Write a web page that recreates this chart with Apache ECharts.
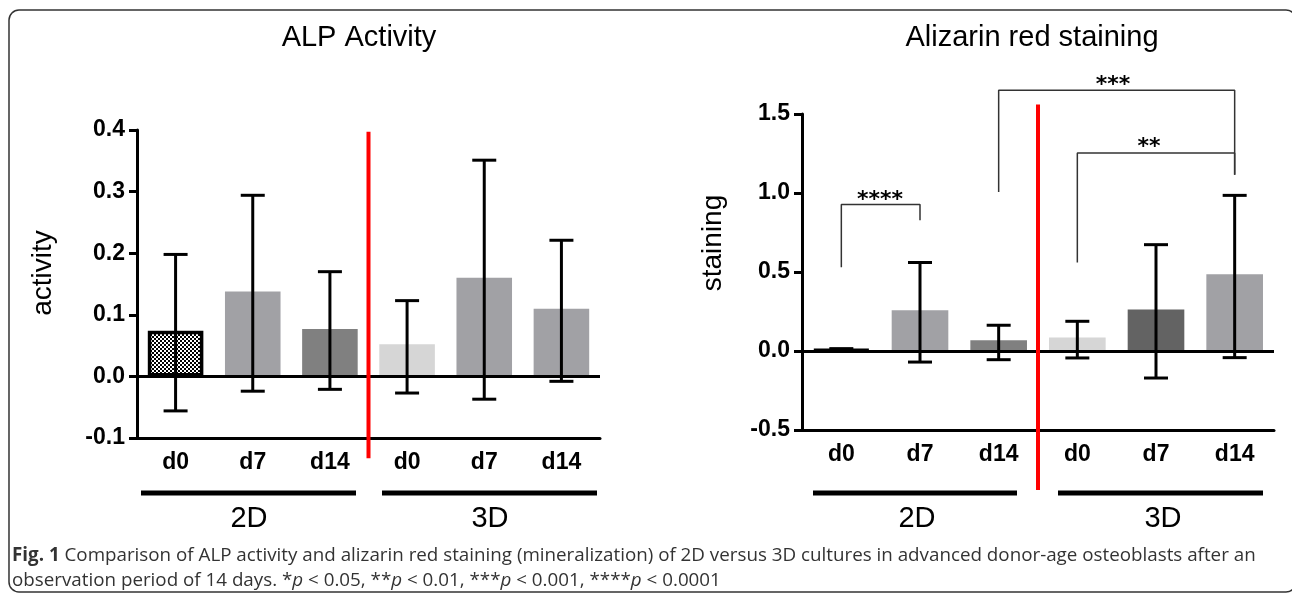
<!DOCTYPE html>
<html>
<head>
<meta charset="utf-8">
<script src="https://cdn.jsdelivr.net/npm/echarts@6/dist/echarts.min.js"></script>
<style>
html,body{margin:0;padding:0;background:#fff;}
#chart{width:1292px;height:597px;}
</style>
</head>
<body>
<div id="chart"></div>
<script>
// ---- data ----
const categories = ['d0', 'd7', 'd14', 'd0', 'd7', 'd14'];
const groupLabels = ['2D', '3D'];

const alpMean    = [0.074, 0.138, 0.077, 0.052, 0.160, 0.110];
const alpErrHigh = [0.198, 0.294, 0.170, 0.123, 0.351, 0.221];
const alpErrLow  = [-0.056, -0.024, -0.021, -0.027, -0.037, -0.008];

const stainMean    = [0.010, 0.258, 0.068, 0.085, 0.262, 0.485];
const stainErrHigh = [0.015, 0.560, 0.163, 0.188, 0.673, 0.985];
const stainErrLow  = [0.005, -0.070, -0.055, -0.044, -0.171, -0.042];

const alpTicks = [-0.1, 0.0, 0.1, 0.2, 0.3, 0.4];
const stainTicks = [-0.5, 0.0, 0.5, 1.0, 1.5];

// significance brackets: [category index, value] corner points
const bracket4 = [[0, 0.53], [0, 0.927], [1, 0.927], [1, 0.827]];
const bracket3 = [[2, 1.006], [2, 1.65], [5, 1.65], [5, 1.116]];
const bracket2 = [[3, 0.56], [3, 1.253], [5, 1.253], [5, 1.116]];

// ---- styles ----
const alpColors   = ['checker', '#a1a1a5', '#808080', '#d6d6d6', '#a1a1a5', '#a1a1a5'];
const stainColors = ['checker', '#a1a1a5', '#808080', '#d6d6d6', '#636363', '#a1a1a5'];

const cv = document.createElement('canvas');
cv.width = 4; cv.height = 4;
const cx = cv.getContext('2d');
cx.fillStyle = '#fff'; cx.fillRect(0, 0, 4, 4);
cx.fillStyle = '#000'; cx.fillRect(0, 0, 2, 2); cx.fillRect(2, 2, 2, 2);
const checker = { image: cv, repeat: 'repeat' };

const FONT = '"Liberation Sans", Arial, sans-serif';

function barData(vals, cols) {
  return vals.map((v, i) => {
    if (cols[i] === 'checker') {
      return { value: v, itemStyle: { color: checker, borderColor: '#000', borderWidth: 3.5 } };
    }
    return { value: v, itemStyle: { color: cols[i] } };
  });
}
function errData(lo, hi) {
  return lo.map((l, i) => [i, l, hi[i]]);
}
function errRender(params, api) {
  const x = api.value(0);
  const lo = api.coord([x, api.value(1)]);
  const hi = api.coord([x, api.value(2)]);
  const w = 12;
  const st = { stroke: '#000', lineWidth: 3 };
  return {
    type: 'group',
    children: [
      { type: 'line', shape: { x1: hi[0], y1: hi[1], x2: lo[0], y2: lo[1] }, style: st },
      { type: 'line', shape: { x1: hi[0] - w, y1: hi[1], x2: hi[0] + w, y2: hi[1] }, style: st },
      { type: 'line', shape: { x1: lo[0] - w, y1: lo[1], x2: lo[0] + w, y2: lo[1] }, style: st }
    ]
  };
}

function catAxis(grid) {
  return {
    type: 'category', gridIndex: grid, data: categories,
    axisLine: { onZero: false, lineStyle: { color: '#000', width: 3 } },
    axisTick: { alignWithLabel: true, length: 8, lineStyle: { color: '#000', width: 3 } },
    axisLabel: { color: '#000', fontFamily: FONT, fontWeight: 'bold', fontSize: 23, margin: 13 },
    splitLine: { show: false }
  };
}
function hiddenX(grid) {
  return { type: 'value', gridIndex: grid, min: -0.5, max: 5.5, show: false };
}
function valAxis(grid, ticks) {
  return {
    type: 'value', gridIndex: grid,
    min: ticks[0], max: ticks[ticks.length - 1], interval: ticks[1] - ticks[0],
    axisLine: { show: true, onZero: false, lineStyle: { color: '#000', width: 3 } },
    axisTick: { show: true, length: 8, lineStyle: { color: '#000', width: 3 } },
    axisLabel: { color: '#000', fontFamily: FONT, fontWeight: 'bold', fontSize: 23, margin: 12,
      formatter: v => v.toFixed(1) },
    splitLine: { show: false }
  };
}
const zeroLine = {
  silent: true, symbol: 'none', label: { show: false },
  lineStyle: { color: '#000', width: 3, type: 'solid' },
  data: [{ yAxis: 0 }]
};
function lineSeries(xi, yi, data, color, width, z) {
  return {
    type: 'line', xAxisIndex: xi, yAxisIndex: yi, data: data,
    symbol: 'none', clip: false, silent: true, z: z,
    lineStyle: { color: color, width: width }
  };
}

const chart = echarts.init(document.getElementById('chart'), null, { renderer: 'canvas' });

const titleStyle = (x, y, text) => ({
  type: 'text', x: x, y: y,
  style: { text: text, fill: '#000', font: '29px ' + FONT, align: 'center', verticalAlign: 'middle' }
});
const yName = (x, y, text) => ({
  type: 'text', x: x, y: y, rotation: Math.PI / 2,
  style: { text: text, fill: '#000', font: '28px ' + FONT, align: 'center', verticalAlign: 'middle' }
});
const groupBar = (x1, x2, y) => ({
  type: 'line', shape: { x1: x1, y1: y, x2: x2, y2: y }, style: { stroke: '#000', lineWidth: 5 }
});
const groupText = (x, y, text) => ({
  type: 'text', x: x, y: y,
  style: { text: text, fill: '#000', font: '29px ' + FONT, align: 'center', verticalAlign: 'middle' }
});
const starText = (x, y, text) => ({
  type: 'text', x: x, y: y,
  style: { text: text, fill: '#000', font: 'bold 22px "DejaVu Sans", sans-serif', align: 'center', verticalAlign: 'middle' }
});

chart.setOption({
  animation: false,
  grid: [
    { left: 137, top: 130, width: 463, height: 308 },
    { left: 802, top: 114, width: 472, height: 316 }
  ],
  xAxis: [catAxis(0), hiddenX(0), catAxis(1), hiddenX(1)],
  yAxis: [valAxis(0, alpTicks), valAxis(1, stainTicks)],
  series: [
    { type: 'bar', xAxisIndex: 0, yAxisIndex: 0, barWidth: '72%', data: barData(alpMean, alpColors), markLine: zeroLine, z: 2 },
    { type: 'custom', xAxisIndex: 0, yAxisIndex: 0, renderItem: errRender, data: errData(alpErrLow, alpErrHigh), encode: { x: 0, y: [1, 2] }, z: 4 },
    { type: 'bar', xAxisIndex: 2, yAxisIndex: 1, barWidth: '72%', data: barData(stainMean, stainColors), markLine: zeroLine, z: 2 },
    { type: 'custom', xAxisIndex: 2, yAxisIndex: 1, renderItem: errRender, data: errData(stainErrLow, stainErrHigh), encode: { x: 0, y: [1, 2] }, z: 4 },
    lineSeries(1, 0, [[2.5, 0.397], [2.5, -0.133]], '#ff0000', 4, 6),
    lineSeries(3, 1, [[2.5, 1.56], [2.5, -0.88]], '#ff0000', 4, 6),
    lineSeries(3, 1, bracket4, '#333', 1.5, 5),
    lineSeries(3, 1, bracket3, '#333', 1.5, 5),
    lineSeries(3, 1, bracket2, '#333', 1.5, 5)
  ],
  graphic: [
    { type: 'rect', shape: { x: 9, y: 10, width: 1287, height: 582, r: 10 }, style: { fill: 'none', stroke: '#333', lineWidth: 1.5 } },
    titleStyle(359, 38, 'ALP Activity'),
    titleStyle(1032, 38, 'Alizarin red staining'),
    yName(43, 273, 'activity'),
    yName(713, 243, 'staining'),
    groupBar(141, 356, 493), groupBar(382, 597, 493),
    groupBar(813, 1017, 493), groupBar(1058, 1263, 493),
    groupText(249, 519, groupLabels[0]), groupText(490, 519, groupLabels[1]),
    groupText(917, 519, groupLabels[0]), groupText(1163, 519, groupLabels[1]),
    starText(880, 200, '****'),
    starText(1113, 85, '***'),
    starText(1149, 147, '**'),
    {
      type: 'text', x: 12, y: 543,
      style: {
        text: '{b|Fig. 1} Comparison of ALP activity and alizarin red staining (mineralization) of 2D versus 3D cultures in advanced donor-age osteoblasts after an\nobservation period of 14 days. *{i|p} < 0.05, **{i|p} < 0.01, ***{i|p} < 0.001, ****{i|p} < 0.0001',
        fill: '#333', font: '18.8px "Open Sans", sans-serif', lineHeight: 25,
        rich: {
          b: { fontWeight: 'bold', fontFamily: '"Open Sans", sans-serif', fontSize: 18.8, fill: '#333', lineHeight: 25 },
          i: { fontStyle: 'italic', fontFamily: '"Open Sans", sans-serif', fontSize: 18.8, fill: '#333', lineHeight: 25 }
        }
      }
    }
  ]
});
</script>
</body>
</html>
